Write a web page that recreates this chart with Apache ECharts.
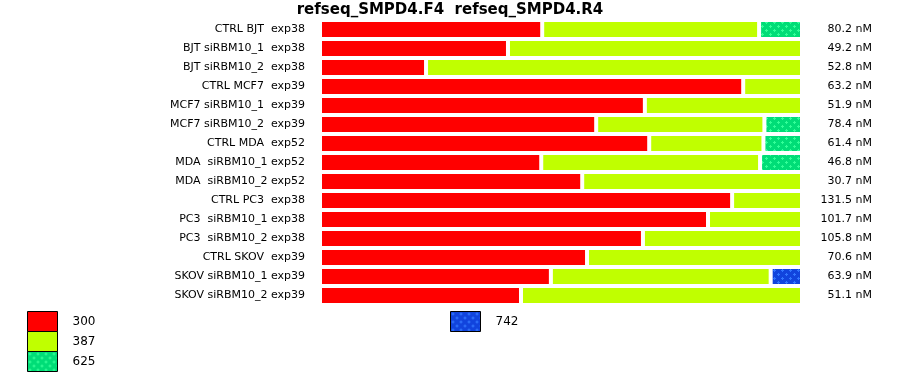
<!DOCTYPE html>
<html>
<head>
<meta charset="utf-8">
<script src="https://cdn.jsdelivr.net/npm/echarts@6/dist/echarts.min.js"></script>
<style>html,body{margin:0;padding:0;background:#fff}#c{width:900px;height:375px}</style>
</head>
<body>
<div id="c"></div>
<script>
const categories = [
  'CTRL BJT  exp38', 'BJT siRBM10_1  exp38', 'BJT siRBM10_2  exp38',
  'CTRL MCF7  exp39', 'MCF7 siRBM10_1  exp39', 'MCF7 siRBM10_2  exp39',
  'CTRL MDA  exp52', 'MDA  siRBM10_1 exp52', 'MDA  siRBM10_2 exp52',
  'CTRL PC3  exp38', 'PC3  siRBM10_1 exp38', 'PC3  siRBM10_2 exp38',
  'CTRL SKOV  exp39', 'SKOV siRBM10_1 exp39', 'SKOV siRBM10_2 exp39'
];
const concentrations = [
  '80.2 nM', '49.2 nM', '52.8 nM', '63.2 nM', '51.9 nM', '78.4 nM', '61.4 nM', '46.8 nM',
  '30.7 nM', '131.5 nM', '101.7 nM', '105.8 nM', '70.6 nM', '63.9 nM', '51.1 nM'
];
const seriesNames = ['300', '387', '625', '742'];
const s300 = [46.1, 39.0, 22.0, 87.8, 67.4, 57.3, 68.3, 45.9, 54.4, 85.5, 80.5, 67.0, 55.4, 47.9, 41.7];
const s387 = [45.0, 61.0, 78.0, 12.2, 32.6, 34.9, 23.7, 45.4, 45.6, 14.5, 19.5, 33.0, 44.6, 45.6, 58.3];
const s625 = [8.9, '-', '-', '-', '-', 7.8, 8.0, 8.7, '-', '-', '-', '-', '-', '-', '-'];
const s742 = ['-', '-', '-', '-', '-', '-', '-', '-', '-', '-', '-', '-', '-', 6.5, '-'];
const titleText = 'refseq_SMPD4.F4  refseq_SMPD4.R4';

function makePattern(base, dot) {
  const c = document.createElement('canvas');
  c.width = 8; c.height = 8;
  const g = c.getContext('2d');
  g.fillStyle = base; g.fillRect(0, 0, 8, 8);
  g.fillStyle = dot;
  g.fillRect(2, 1, 1, 3); g.fillRect(1, 2, 3, 1);
  g.fillRect(6, 5, 1, 3); g.fillRect(5, 6, 3, 1);
  return c;
}
const colors = [
  '#ff0000',
  '#c0ff00',
  { image: makePattern('#00dd77', '#33ff99'), repeat: 'repeat' },
  { image: makePattern('#1144dd', '#3377ff'), repeat: 'repeat' }
];
const values = [s300, s387, s625, s742];
const FONT = 'DejaVu Sans';

const legendBase = {
  orient: 'vertical', icon: 'rect',
  itemWidth: 30, itemHeight: 20, itemGap: -1, padding: 0,
  itemStyle: { borderColor: '#000', borderWidth: 1 },
  textStyle: { fontFamily: FONT, fontSize: 12, color: '#000', padding: [0, 0, 0, 10], lineHeight: 14 },
  selectedMode: false
};

const chart = echarts.init(document.getElementById('c'), null, { renderer: 'canvas' });
chart.setOption({
  animation: false,
  backgroundColor: '#fff',
  title: {
    text: titleText, left: 'center', top: -2,
    textStyle: { fontFamily: FONT, fontSize: 15, fontWeight: 'bold', color: '#000' }
  },
  legend: [
    Object.assign({}, legendBase, { data: seriesNames.slice(0, 3), left: 27, top: 311 }),
    Object.assign({}, legendBase, { data: seriesNames.slice(3), left: 450, top: 311 })
  ],
  grid: { left: 320, right: 98, top: 20, height: 285, containLabel: false },
  xAxis: { type: 'value', min: 0, max: 100, show: false },
  yAxis: [
    {
      type: 'category', data: categories, inverse: true,
      axisLine: { show: false }, axisTick: { show: false }, splitLine: { show: false },
      axisLabel: { fontFamily: FONT, fontSize: 11, color: '#000', margin: 15 }
    },
    {
      type: 'category', data: concentrations, inverse: true, position: 'right',
      axisLine: { show: false }, axisTick: { show: false }, splitLine: { show: false },
      axisLabel: { fontFamily: FONT, fontSize: 11, color: '#000', margin: 70, align: 'right' }
    }
  ],
  series: seriesNames.map((n, i) => ({
    name: n, type: 'bar', stack: 'total', yAxisIndex: 0,
    data: values[i], barCategoryGap: '0%', barGap: '0%',
    itemStyle: { color: colors[i], borderColor: '#fff', borderWidth: 2 },
    emphasis: { disabled: true }
  }))
});
</script>
</body>
</html>
